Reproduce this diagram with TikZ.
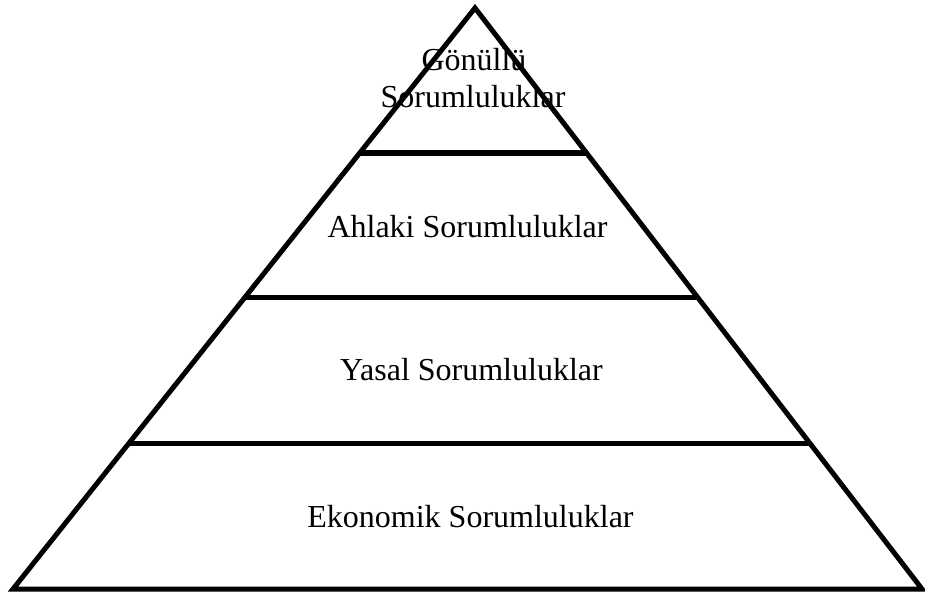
\documentclass[tikz,border=0pt]{standalone}
\usepackage{fontspec}
\setmainfont{Liberation Serif}
\usetikzlibrary{calc}
\begin{document}
\begin{tikzpicture}[x=1pt,y=-1pt,
  edge/.style={line width=5pt,line join=miter,line cap=butt},
  topedge/.style={line width=6.5pt,line cap=butt},
  lbl/.style={font=\fontsize{32}{37}\selectfont,anchor=base,inner sep=0pt,align=center}]
\useasboundingbox (0,0) rectangle (925,595);
\coordinate (apex) at (475,8);
\coordinate (bl) at (13,589);
\coordinate (br) at (922,589);
\draw[edge] (bl) -- (apex) -- (br) -- cycle;
\coordinate (l1) at ($(apex)!0.2496!(bl)$);
\coordinate (r1) at ($(apex)!0.2496!(br)$);
\coordinate (l2) at ($(apex)!0.4983!(bl)$);
\coordinate (r2) at ($(apex)!0.4983!(br)$);
\coordinate (l3) at ($(apex)!0.7487!(bl)$);
\coordinate (r3) at ($(apex)!0.7487!(br)$);
\draw[topedge] (l1) -- (r1);
\draw[edge] (l2) -- (r2);
\draw[edge] (l3) -- (r3);
\node[lbl] (t1a) at (474,70) {Gönüllü};
\node[lbl] (t1b) at (473,107) {Sorumluluklar};
\node[lbl] (t2) at (467.5,237) {Ahlaki Sorumluluklar};
\node[lbl] (t3) at (471.5,380) {Yasal Sorumluluklar};
\node[lbl] (t4) at (470.5,527) {Ekonomik Sorumluluklar};
\end{tikzpicture}
\end{document}
